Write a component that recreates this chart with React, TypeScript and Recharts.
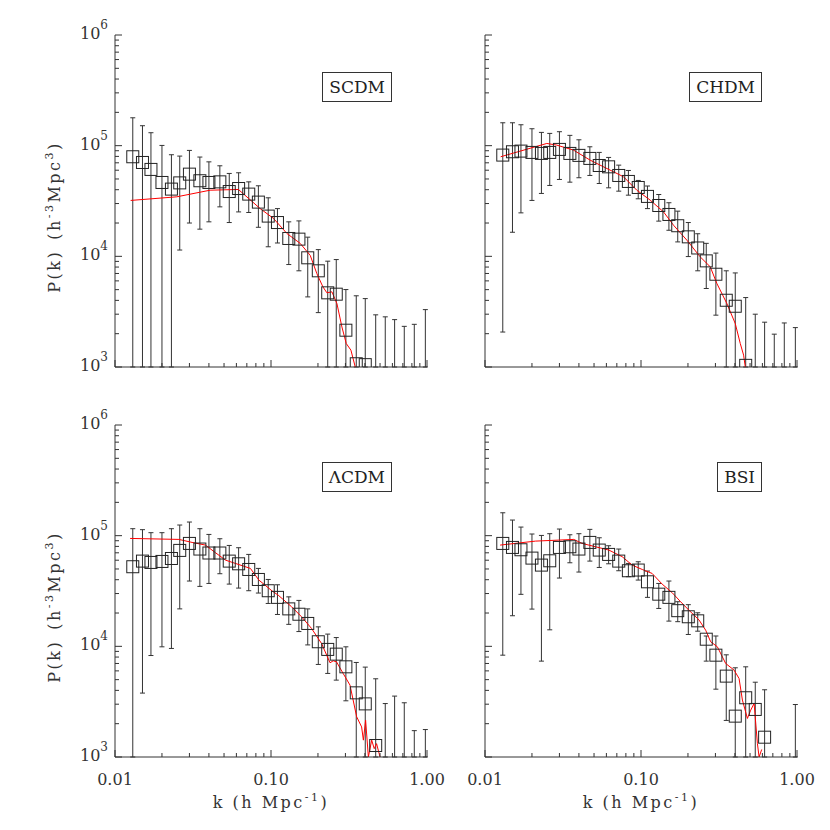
import { ComposedChart, ErrorBar, Line, Scatter, XAxis, YAxis } from "recharts";

// k bins (h/Mpc) shared by all four panels
const K = [
  0.013, 0.015, 0.017, 0.02, 0.023, 0.026, 0.03, 0.035, 0.04, 0.047, 0.054, 0.062, 0.072, 0.083, 0.096, 0.11,
  0.13, 0.151, 0.172, 0.201, 0.231, 0.262, 0.302, 0.352, 0.402, 0.469, 0.54, 0.62, 0.715, 0.829, 0.976,
];

// measured P(k), upper and lower error ends (null lower = runs off the bottom)
const SCDM_P = [
  79400, 70500, 61000, 46500, 40500, 46100, 55300, 48200, 46500, 47100, 38500, 41000, 36500, 30900, 23100, 20200,
  14500, 14300, 9700, 7400, 4680, 4550, 2150, 1070, 1050, 700, 600, 500, 500, 500, 500,
];
const SCDM_HI = [
  178600, 151400, 130900, 100500, 82800, 80500, 90600, 78900, 71400, 65800, 56100, 56900, 47100, 43400, 33800, 27000,
  20500, 20900, 14900, 11500, 9040, 9350, 5010, 4400, 4150, 2960, 2840, 2680, 2330, 2430, 3300,
];
const SCDM_LO = [
  null, null, null, null, null, 11400, 20000, 17600, 20500, 28000, 20200, 25200, 24900, 18300, 12200, 13200,
  8430, 7400, 4300, 3100, null, null, null, null, null, null, null, null, null, null, null,
];

const CHDM_P = [
  82200, 88100, 89300, 86900, 85100, 86900, 92500, 85100, 81700, 76700, 66200, 64400, 53800, 47500, 41900, 34800,
  28800, 23900, 18900, 15000, 11900, 9100, 6890, 4010, 3540, 1035, 600, 500, 500, 500, 500,
];
const CHDM_HI = [
  161000, 161000, 154500, 142200, 131800, 129100, 133700, 123900, 113000, 97700, 86900, 78300, 66700, 59700, 48500,
  43200, 36200, 30500, 25600, 20200, 16000, 13100, 10700, 7400, 7080, 4240, 3000, 2540, 1980, 2500, 2270,
];
const CHDM_LO = [
  2070, 16500, 24700, 32000, 37000, 43700, 49500, 46800, 51300, 53800, 45500, 41600, 38800, 35700, 33100, 27000,
  20800, 17200, 13500, 9950, 7400, 5120, 2940, null, null, null, null, null, null, null, null,
];

const LCDM_P = [
  52400, 58900, 57300, 58500, 62200, 73600, 85100, 75700, 69700, 69700, 58900, 55700, 49500, 40200, 31800, 27700,
  21800, 19500, 16100, 11000, 9380, 8500, 6530, 3800, 3020, 1270, 600, 600, 500, 400, 400,
];
const LCDM_HI = [
  115600, 113300, 106400, 106400, 115600, 124800, 132800, 115600, 102600, 93800, 81600, 77800, 67700, 50600, 40200,
  36000, 28000, 26000, 21800, 15000, 12900, 12000, 9900, 7150, 6490, 5090, 3040, 3550, 3090, 1730, 1770,
];
const LCDM_LO = [
  null, 3780, 8260, 9900, 9570, 21800, 38900, 34800, 37000, 45300, 36500, 33600, 31800, 30300, 24400, 19400,
  15800, 13600, 10300, 6860, 5690, 4950, 3220, null, null, null, null, null, null, null, null,
];

const BSI_P = [
  85100, 78300, 74600, 62700, 54200, 59300, 78300, 79400, 75700, 86900, 74100, 67700, 58900, 48200, 48900, 38300,
  29600, 27700, 21000, 18500, 17000, 11600, 8320, 5380, 2340, 3430, 2690, 1510, null, null, 600,
];
const BSI_HI = [
  161000, 138400, 119600, 103500, 100500, 104200, 114800, 101900, 104200, 114000, 95700, 81100, 75700, 56100, 58100,
  47900, 37000, 38900, 25300, 23800, 20100, 12400, 12400, 8380, 6400, 6530, 4740, 4050, null, null, 2980,
];
const BSI_LO = [
  8320, 18900, 29500, 21700, 7350, 14100, 41400, 56900, 46900, 58900, 51600, 55700, 48200, 42600, 39700, 27700,
  22000, 16900, 16700, 12800, 13700, 7350, 4100, 2140, null, null, null, null, null, null, null,
];

// model curves (red)
const SCDM_MK = [
  0.0126, 0.0249, 0.0407, 0.0618, 0.0852, 0.1038, 0.1264, 0.1538, 0.1784, 0.1968, 0.2151, 0.2282, 0.2457, 0.2646,
  0.2848, 0.3036, 0.3253, 0.3468,
];
const SCDM_MP = [
  32000, 34500, 39600, 40200, 27000, 22000, 16100, 13100, 10200, 6980, 5300, 4680, 4780, 3740, 2300, 1630, 1420, 1000,
];
const CHDM_MK = [
  0.0126, 0.0249, 0.0288, 0.0369, 0.0472, 0.0634, 0.0772, 0.094, 0.1145, 0.1395, 0.1616, 0.1968, 0.2397, 0.2779,
  0.3066, 0.3554, 0.402, 0.4329, 0.4547, 0.4662,
];
const CHDM_MP = [
  79400, 104700, 101200, 91200, 74000, 60100, 52400, 39600, 32200, 25200, 19100, 14000, 9890, 8040, 5680, 3740, 2470,
  1630, 1280, 1000,
];
const LCDM_MK = [
  0.0125, 0.0257, 0.0312, 0.038, 0.0441, 0.0511, 0.0592, 0.0738, 0.0836, 0.1018, 0.1112, 0.1354, 0.157, 0.182, 0.211,
  0.239, 0.2506, 0.263, 0.29, 0.321, 0.354, 0.381, 0.391, 0.404, 0.421, 0.442, 0.459, 0.475, 0.5,
];
const LCDM_MP = [
  94400, 92500, 86900, 82200, 70100, 60100, 56100, 50600, 39700, 31600, 29000, 22800, 18500, 14500, 10600, 7100, 7400,
  7240, 5690, 4460, 2310, 1870, 1420, 2150, 1000, 1420, 1190, 1320, 1000,
];
const BSI_MK = [
  0.0125, 0.0211, 0.0297, 0.0371, 0.0419, 0.0511, 0.0622, 0.0757, 0.0878, 0.1018, 0.1178, 0.1366, 0.1585, 0.1794,
  0.2029, 0.2355, 0.2597, 0.2796, 0.3086, 0.349, 0.395, 0.4253, 0.4467, 0.481, 0.505, 0.531, 0.5575, 0.5715, 0.594,
];
const BSI_MP = [
  82200, 89300, 91200, 92500, 85100, 79400, 74100, 64600, 54200, 49500, 45600, 36500, 30500, 25300, 21200, 17300,
  14000, 11000, 9910, 7000, 6100, 5120, 3270, 2230, 2650, 3050, 1320, 1000, 1170,
];

const X_TICKS = [0.01, 0.02, 0.03, 0.04, 0.05, 0.06, 0.07, 0.08, 0.09, 0.1, 0.2, 0.3, 0.4, 0.5, 0.6, 0.7, 0.8, 0.9, 1];
const Y_TICKS = [
  1e3, 2e3, 3e3, 4e3, 5e3, 6e3, 7e3, 8e3, 9e3, 1e4, 2e4, 3e4, 4e4, 5e4, 6e4, 7e4, 8e4, 9e4, 1e5, 2e5, 3e5, 4e5, 5e5,
  6e5, 7e5, 8e5, 9e5, 1e6,
];

const FLOOR = 1000;
const INK = "#333";
const TEXT = { fontFamily: "'DejaVu Serif', serif", fontSize: 16, fill: "#333" } as const;

// chart box geometry (plot area sits at the same spot in every box)
const CW = 455;
const CH = 430;
const PLOT_L = 115;
const PLOT_W = 312;

function points(p: (number | null)[], hi: (number | null)[], lo: (number | null)[]) {
  return K.map((k, i) => ({ k, p: p[i], hi: hi[i], lo: lo[i] ?? FLOOR }))
    .filter((r) => r.p != null)
    .map((r) => ({ k: r.k, p: r.p as number, err: [(r.p as number) - r.lo, (r.hi as number) - (r.p as number)] }));
}

function curve(ks: number[], ps: number[]) {
  return ks.map((k, i) => ({ k, p: ps[i] }));
}

function isMajor(v: number) {
  const l = Math.log10(v);
  return Math.abs(l - Math.round(l)) < 1e-6;
}

function FrameTick({ x, y, payload, side, labels }: any) {
  const v = payload.value;
  const major = isMajor(v);
  const len = major ? 7 : 4;
  const dx = side === "left" ? len : side === "right" ? -len : 0;
  const dy = side === "bottom" ? -len : side === "top" ? len : 0;
  return (
    <g>
      <line x1={x} y1={y} x2={x + dx} y2={y + dy} stroke={INK} />
      {labels && major && side === "bottom" && (
        <text x={x} y={y + 28} textAnchor="middle" style={TEXT}>
          {v.toFixed(2)}
        </text>
      )}
      {labels && major && side === "left" && (
        <text x={x - 7} y={y + 4} textAnchor="end" style={TEXT}>
          10
          <tspan dy={-10} fontSize={12}>
            {Math.round(Math.log10(v))}
          </tspan>
        </text>
      )}
    </g>
  );
}

function YTitle({ viewBox }: any) {
  const cx = viewBox.x + viewBox.width - 55;
  const cy = viewBox.y + viewBox.height / 2 + 16;
  return (
    <text x={cx} y={cy} transform={`rotate(-90, ${cx}, ${cy})`} textAnchor="middle" style={{ ...TEXT, letterSpacing: 2.5 }}>
      P(k)
      <tspan dx={10}>(h</tspan>
      <tspan dy={-7} fontSize={11}>
        -3
      </tspan>
      <tspan dy={7}>Mpc</tspan>
      <tspan dy={-7} fontSize={11}>
        3
      </tspan>
      <tspan dy={7}>)</tspan>
    </text>
  );
}

function XTitle({ viewBox }: any) {
  return (
    <text x={viewBox.x + viewBox.width / 2} y={viewBox.y + 51} textAnchor="middle" style={{ ...TEXT, letterSpacing: 2.5 }}>
      k (h Mpc
      <tspan dy={-7} fontSize={11}>
        -1
      </tspan>
      <tspan dy={7}>)</tspan>
    </text>
  );
}

function Square({ cx, cy, payload }: any) {
  if (payload.p < FLOOR) return <g />;
  return <rect x={cx - 6} y={cy - 6} width={12} height={12} fill="none" stroke="#222" />;
}

function Panel({
  name,
  data,
  model,
  left,
  top,
  showX,
  showY,
}: {
  name: string;
  data: ReturnType<typeof points>;
  model: ReturnType<typeof curve>;
  left: number;
  top: number;
  showX: boolean;
  showY: boolean;
}) {
  const axis = { type: "number", scale: "log", allowDataOverflow: true, interval: 0, tickSize: 0, tickMargin: 0 } as const;
  return (
    <div style={{ position: "absolute", left, top, width: CW, height: CH }}>
      <ComposedChart width={CW} height={CH} margin={{ top: 35, right: CW - PLOT_L - PLOT_W, bottom: 33, left: 55 }}>
        <XAxis
          {...axis}
          xAxisId="x"
          dataKey="k"
          domain={[0.01, 1]}
          ticks={X_TICKS}
          height={30}
          tickLine={false}
          axisLine={{ stroke: INK }}
          tick={(p: any) => <FrameTick {...p} side="bottom" labels={showX} />}
          label={showX ? (p: any) => <XTitle {...p} /> : undefined}
        />
        <XAxis
          {...axis}
          xAxisId="xt"
          orientation="top"
          mirror
          domain={[0.01, 1]}
          ticks={X_TICKS}
          height={0}
          tickLine={false}
          axisLine={{ stroke: INK }}
          tick={(p: any) => <FrameTick {...p} side="top" />}
        />
        <YAxis
          {...axis}
          yAxisId="y"
          dataKey="p"
          domain={[1e3, 1e6]}
          ticks={Y_TICKS}
          width={60}
          tickLine={false}
          axisLine={{ stroke: INK }}
          tick={(p: any) => <FrameTick {...p} side="left" labels={showY} />}
          label={showY ? (p: any) => <YTitle {...p} /> : undefined}
        />
        <YAxis
          {...axis}
          yAxisId="yr"
          orientation="right"
          mirror
          domain={[1e3, 1e6]}
          ticks={Y_TICKS}
          width={0}
          tickLine={false}
          axisLine={{ stroke: INK }}
          tick={(p: any) => <FrameTick {...p} side="right" />}
        />
        <Scatter data={data} dataKey="p" xAxisId="x" yAxisId="y" shape={<Square />} isAnimationActive={false}>
          <ErrorBar dataKey="err" direction="y" width={2.5} stroke={INK} strokeWidth={1} />
        </Scatter>
        <Line
          data={model}
          dataKey="p"
          xAxisId="x"
          yAxisId="y"
          type="linear"
          stroke="#ff0000"
          strokeWidth={1}
          dot={false}
          isAnimationActive={false}
        />
      </ComposedChart>
      <div
        style={{
          position: "absolute",
          top: 72,
          right: CW - PLOT_L - PLOT_W + 35,
          height: 28,
          lineHeight: "28px",
          padding: "0 6px",
          border: `1px solid ${INK}`,
          fontFamily: "'DejaVu Serif', serif",
          fontSize: 17,
          color: "#222",
          background: "#fff",
        }}
      >
        {name}
      </div>
    </div>
  );
}

export default function App() {
  return (
    <div style={{ position: "absolute", left: 0, top: 0, width: 830, height: 830, background: "#fff" }}>
      <Panel name="SCDM" data={points(SCDM_P, SCDM_HI, SCDM_LO)} model={curve(SCDM_MK, SCDM_MP)} left={0} top={0} showX={false} showY />
      <Panel name="CHDM" data={points(CHDM_P, CHDM_HI, CHDM_LO)} model={curve(CHDM_MK, CHDM_MP)} left={370} top={0} showX={false} showY={false} />
      <Panel name="ΛCDM" data={points(LCDM_P, LCDM_HI, LCDM_LO)} model={curve(LCDM_MK, LCDM_MP)} left={0} top={390} showX showY />
      <Panel name="BSI" data={points(BSI_P, BSI_HI, BSI_LO)} model={curve(BSI_MK, BSI_MP)} left={370} top={390} showX showY={false} />
    </div>
  );
}
